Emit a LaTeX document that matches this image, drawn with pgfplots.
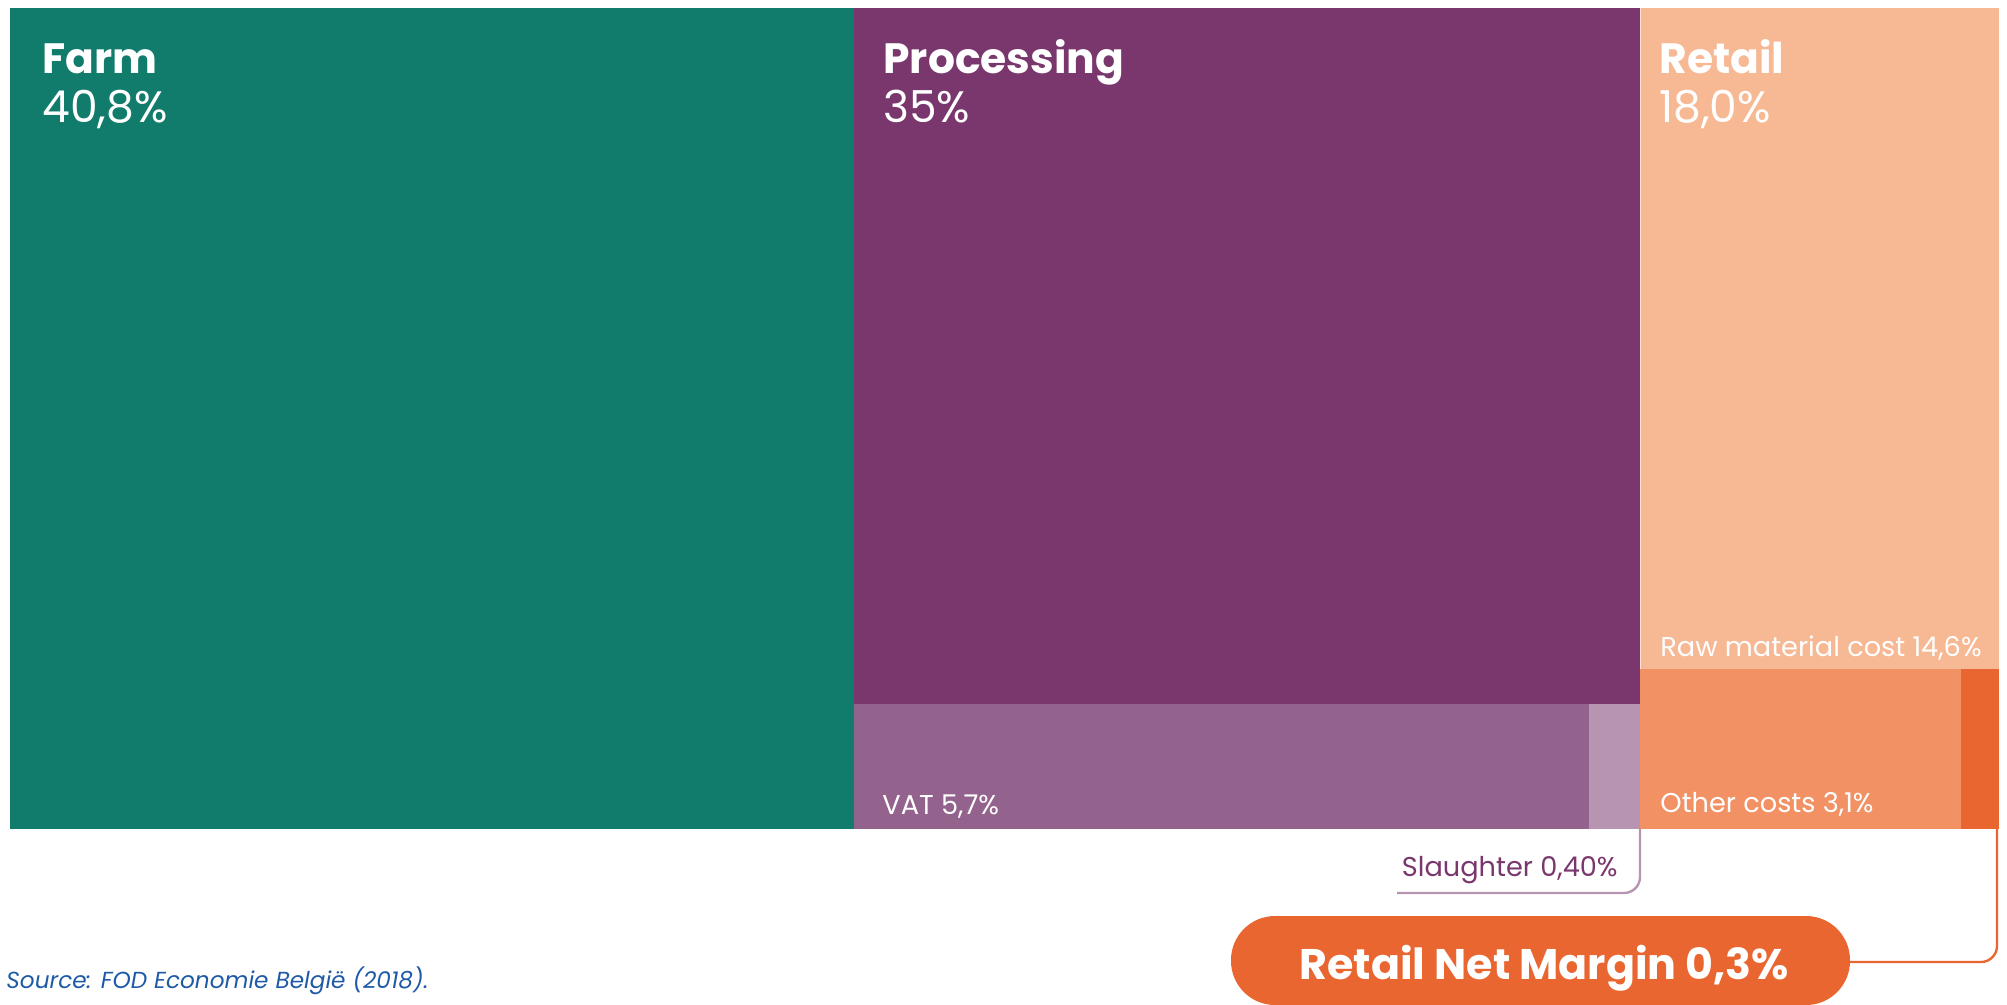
\documentclass[border=0pt]{standalone}
\usepackage{pgfplots}
\pgfplotsset{compat=1.18}
\usepackage{fontspec}
\setmainfont{Poppins}
\definecolor{farm}{HTML}{127C6C}
\definecolor{proc}{HTML}{79376E}
\definecolor{vat}{HTML}{94638D}
\definecolor{slau}{HTML}{B694B2}
\definecolor{retail}{HTML}{F7B894}
\definecolor{other}{HTML}{F29164}
\definecolor{margin}{HTML}{E96631}
\definecolor{src}{HTML}{1F5AA6}
\begin{document}
\begin{tikzpicture}
\begin{axis}[x=0.5pt, y=0.5pt, xmin=0, xmax=2007, ymin=0, ymax=1005, y dir=reverse,
  hide axis, clip=false, scale only axis]
\path (axis cs:0,0) rectangle (axis cs:2007,1005);
% Farm
\addplot[fill=farm, draw=none] coordinates {(10,8) (854,8) (854,829) (10,829)} -- cycle;
% Processing
\addplot[fill=proc, draw=none] coordinates {(854,8) (1640,8) (1640,704) (854,704)} -- cycle;
\addplot[fill=vat, draw=none] coordinates {(854,704) (1589,704) (1589,829) (854,829)} -- cycle;
\addplot[fill=slau, draw=none] coordinates {(1589,704) (1640,704) (1640,829) (1589,829)} -- cycle;
% Retail
\addplot[fill=retail, draw=none] coordinates {(1640,8) (1999,8) (1999,669) (1640,669)} -- cycle;
\addplot[fill=other, draw=none] coordinates {(1640,669) (1961,669) (1961,829) (1640,829)} -- cycle;
\addplot[fill=margin, draw=none] coordinates {(1961,669) (1999,669) (1999,829) (1961,829)} -- cycle;
\draw[white!60!retail, line width=0.4pt] (axis cs:1640,8) -- (axis cs:1640,669);
% labels
\node[anchor=base west, text=white, inner sep=0pt, font=\fontsize{21.2}{25}\selectfont\bfseries] at (axis cs:42,74) {Farm};
\node[anchor=base west, text=white, inner sep=0pt, font=\fontsize{22}{26}\selectfont] at (axis cs:42,123) {40,8\%};
\node[anchor=base west, text=white, inner sep=0pt, font=\fontsize{21.2}{25}\selectfont\bfseries] at (axis cs:883,74) {Processing};
\node[anchor=base west, text=white, inner sep=0pt, font=\fontsize{22}{26}\selectfont] at (axis cs:883,123) {35\%};
\node[anchor=base west, text=white, inner sep=0pt, font=\fontsize{21.2}{25}\selectfont\bfseries] at (axis cs:1659,74) {Retail};
\node[anchor=base west, text=white, inner sep=0pt, font=\fontsize{22}{26}\selectfont] at (axis cs:1659,123) {18,0\%};
\node[anchor=base west, text=white, inner sep=0pt, font=\fontsize{13.6}{16}\selectfont] at (axis cs:1660,656) {Raw material cost 14,6\%};
\node[anchor=base west, text=white, inner sep=0pt, font=\fontsize{13.6}{16}\selectfont] at (axis cs:1660,812) {Other costs 3,1\%};
\node[anchor=base west, text=white, inner sep=0pt, font=\fontsize{13.6}{16}\selectfont] at (axis cs:882,814) {VAT 5,7\%};
% slaughter bracket
\draw[slau, line width=1.2pt, rounded corners=8pt] (axis cs:1640,829) -- (axis cs:1640,893) -- (axis cs:1397,893);
\node[anchor=base east, text=proc, inner sep=0pt, font=\fontsize{13.6}{16}\selectfont] at (axis cs:1618,876) {Slaughter 0,40\%};
% net margin connector and pill
\draw[margin, line width=1.2pt, rounded corners=8pt] (axis cs:1997,829) -- (axis cs:1997,962) -- (axis cs:1848,962);
\fill[margin, rounded corners=22pt] (axis cs:1231,916) rectangle (axis cs:1850,1005);
\node[anchor=base west, text=white, inner sep=0pt, font=\fontsize{21.4}{25}\selectfont\bfseries] at (axis cs:1299,979) {Retail Net Margin 0,3\%};
% source
\node[anchor=base west, text=src, inner sep=0pt, font=\fontsize{11.6}{14}\selectfont\itshape] at (axis cs:6,988) {Source: FOD Economie België (2018).};
\end{axis}
\end{tikzpicture}
\end{document}
